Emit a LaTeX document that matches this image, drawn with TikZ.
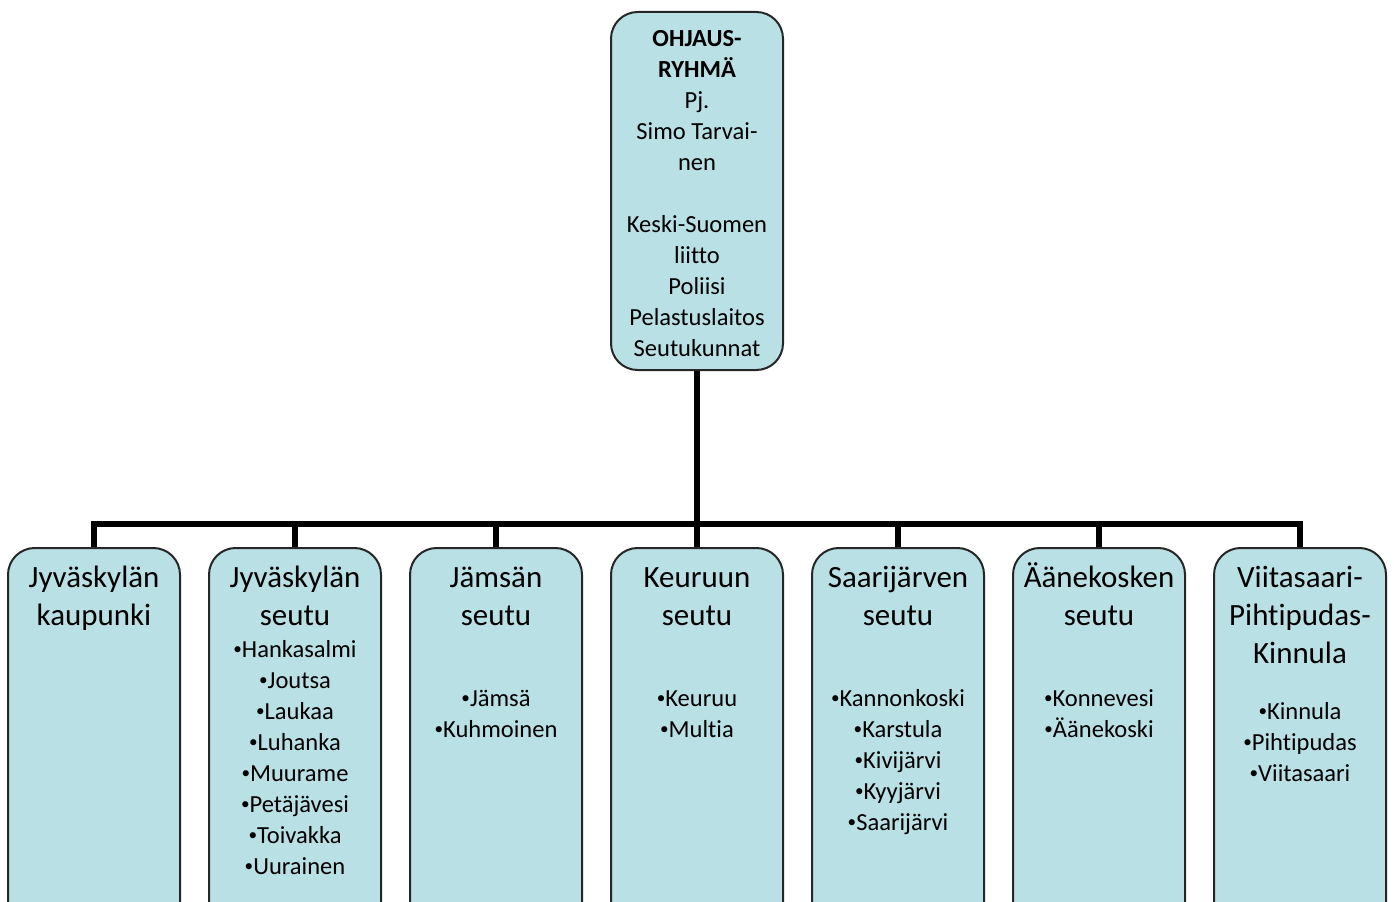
\documentclass[tikz,border=0pt]{standalone}
\usepackage{fontspec}
\setmainfont{Carlito}[Ligatures=CommonOff]
\usepackage{tikz}
\definecolor{boxfill}{RGB}{185,224,228}
\newcommand\bul{\raisebox{0.1em}{\scalebox{0.7}{•}}}

\begin{document}
\begin{tikzpicture}
[x=0.75pt,y=-0.75pt
,bx/.style={draw=black!85,line width=1.5pt,fill=boxfill,rounded corners=20pt,minimum width=129pt,inner sep=0pt}
,top/.style={bx,minimum height=268.5pt}
,sub/.style={bx,minimum height=294pt}
,ttl/.style={anchor=base,align=center,inner sep=0pt,font=\fontsize{23.2pt}{28.5pt}\selectfont}
,lst/.style={anchor=base,align=center,inner sep=0pt,font=\fontsize{18.4pt}{23.25pt}\selectfont}
,ln/.style={line width=4.5pt}]
\useasboundingbox (0,0) rectangle (1394,902);

\node[top] (ohj) at (697,191) {};
\node[lst] (ohjt) at (697,356) {\textbf{OHJAUS-}\\\textbf{RYHMÄ}\\Pj.\\Simo Tarvai-\\nen\\[23.25pt]Keski-Suomen\\liitto\\Poliisi\\Pelastuslaitos\\Seutukunnat};

\node[sub] (jkl) at (94,744) {};
\node[sub] (jkls) at (295,744) {};
\node[sub] (jam) at (496,744) {};
\node[sub] (keu) at (697,744) {};
\node[sub] (saa) at (898,744) {};
\node[sub] (aan) at (1099,744) {};
\node[sub] (vii) at (1300,744) {};

\node[ttl] (jklt) at (94,625) {Jyväskylän\\kaupunki};
\node[ttl] (jklst) at (295,625) {Jyväskylän\\seutu};
\node[lst] (jklsl) at (295,874) {\bul Hankasalmi\\\bul Joutsa\\\bul Laukaa\\\bul Luhanka\\\bul Muurame\\\bul Petäjävesi\\\bul Toivakka\\\bul Uurainen};
\node[ttl] (jamt) at (496,625) {Jämsän\\seutu};
\node[lst] (jaml) at (496,737) {\bul Jämsä\\\bul Kuhmoinen};
\node[ttl] (keut) at (697,625) {Keuruun\\seutu};
\node[lst] (keul) at (697,737) {\bul Keuruu\\\bul Multia};
\node[ttl] (saat) at (898,625) {Saarijärven\\seutu};
\node[lst] (saal) at (898,830) {\bul Kannonkoski\\\bul Karstula\\\bul Kivijärvi\\\bul Kyyjärvi\\\bul Saarijärvi};
\node[ttl] (aant) at (1099,625) {Äänekosken\\seutu};
\node[lst] (aanl) at (1099,737) {\bul Konnevesi\\\bul Äänekoski};
\node[ttl] (viit) at (1300,663) {Viitasaari-\\Pihtipudas-\\Kinnula};
\node[lst] (viil) at (1300,781) {\bul Kinnula\\\bul Pihtipudas\\\bul Viitasaari};

\coordinate (bus) at (697,524);
\draw[ln] (ohj.south) -- (bus);
\draw[ln] (jkl.north) |- (bus);
\draw[ln] (jkls.north) |- (bus);
\draw[ln] (jam.north) |- (bus);
\draw[ln] (keu.north) -- (bus);
\draw[ln] (saa.north) |- (bus);
\draw[ln] (aan.north) |- (bus);
\draw[ln] (vii.north) |- (bus);
\end{tikzpicture}
\end{document}
